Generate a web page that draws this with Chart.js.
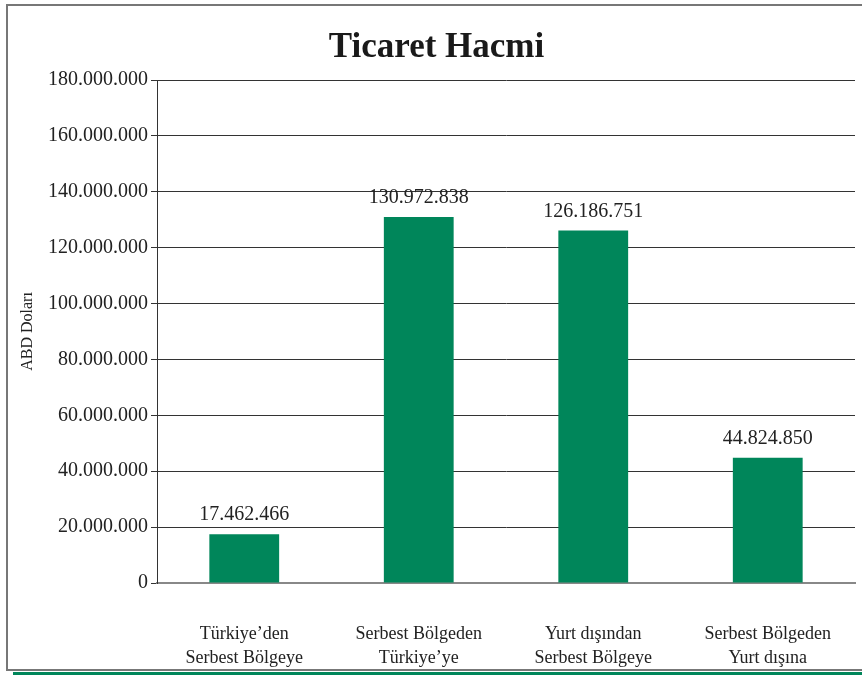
<!DOCTYPE html>
<html>
<head>
<meta charset="utf-8">
<script src="https://cdn.jsdelivr.net/npm/chart.js@4.4.1/dist/chart.umd.min.js"></script>
<style>
  html, body { margin: 0; padding: 0; background: #fff; }
  #wrap { width: 862px; height: 675px; }
</style>
</head>
<body>
<div id="wrap"><canvas id="myChart" width="862" height="675"></canvas></div>
<script>
// Chart data
const categories = [
  ["Türkiye’den", "Serbest Bölgeye"],
  ["Serbest Bölgeden", "Türkiye’ye"],
  ["Yurt dışından", "Serbest Bölgeye"],
  ["Serbest Bölgeden", "Yurt dışına"]
];
const volumes = [17462466, 130972838, 126186751, 44824850];
const yTicks = [0, 20000000, 40000000, 60000000, 80000000, 100000000, 120000000, 140000000, 160000000, 180000000];

const serif = "'Liberation Serif', 'DejaVu Serif', serif";
const green = '#00865A';

// turkish style thousand dots
function dots(n) {
  return String(Math.round(n)).replace(/\B(?=(\d{3})+(?!\d))/g, '.');
}

// draws the outer frame and the green line at the bottom
const framePlugin = {
  id: 'frame',
  beforeDraw(chart) {
    const ctx = chart.ctx;
    ctx.save();
    ctx.strokeStyle = '#777';
    ctx.lineWidth = 2;
    ctx.beginPath();
    ctx.moveTo(862, 5);
    ctx.lineTo(7, 5);
    ctx.lineTo(7, 670);
    ctx.lineTo(862, 670);
    ctx.stroke();
    ctx.fillStyle = green;
    ctx.fillRect(13, 672, 849, 3);
    ctx.restore();
  }
};

// value labels above the bars
const valueLabels = {
  id: 'valueLabels',
  afterDatasetsDraw(chart) {
    const ctx = chart.ctx;
    const meta = chart.getDatasetMeta(0);
    ctx.save();
    ctx.font = '20px ' + serif;
    ctx.fillStyle = '#222';
    ctx.textAlign = 'center';
    ctx.textBaseline = 'bottom';
    meta.data.forEach((bar, i) => {
      ctx.fillText(dots(volumes[i]), bar.x, bar.y - 9);
    });
    ctx.restore();
  }
};

const myChart = document.getElementById('myChart');

let barChart = new Chart(myChart, {
  type: 'bar',
  data: {
    labels: categories,
    datasets: [{
      label: 'Ticaret Hacmi',
      data: volumes,
      backgroundColor: green,
      barPercentage: 0.4,
      categoryPercentage: 1.0
    }]
  },
  options: {
    responsive: false,
    animation: false,
    layout: { padding: { top: 14, right: 7, left: 18, bottom: 4 } },
    plugins: {
      legend: { display: false },
      tooltip: { enabled: false },
      title: {
        display: true,
        text: 'Ticaret Hacmi',
        color: '#1a1a1a',
        font: { family: serif, size: 35, weight: 'bold' },
        padding: { top: 13, bottom: 11 }
      }
    },
    scales: {
      x: {
        grid: { display: false, drawTicks: false },
        border: { color: '#888', width: 2 },
        afterFit(axis) {
          axis.height = 88;
          axis.paddingLeft = 0;
          axis.paddingRight = 0;
        },
        ticks: {
          color: '#222',
          padding: 39,
          maxRotation: 0,
          font: { family: serif, size: 18, lineHeight: 1.33 }
        }
      },
      y: {
        min: 0,
        max: 180000000,
        afterBuildTicks(axis) {
          axis.ticks = yTicks.map(v => ({ value: v }));
        },
        afterFit(axis) {
          axis.width = 139;
        },
        grid: { color: '#333', lineWidth: 1, tickLength: 6 },
        border: { color: '#333', width: 1 },
        title: {
          display: true,
          text: 'ABD Doları',
          color: '#222',
          font: { family: serif, size: 16 },
          padding: { top: 0, bottom: 4 }
        },
        ticks: {
          color: '#222',
          padding: 3,
          font: { family: serif, size: 20 },
          callback: v => dots(v)
        }
      }
    }
  },
  plugins: [framePlugin, valueLabels]
});
</script>
</body>
</html>
